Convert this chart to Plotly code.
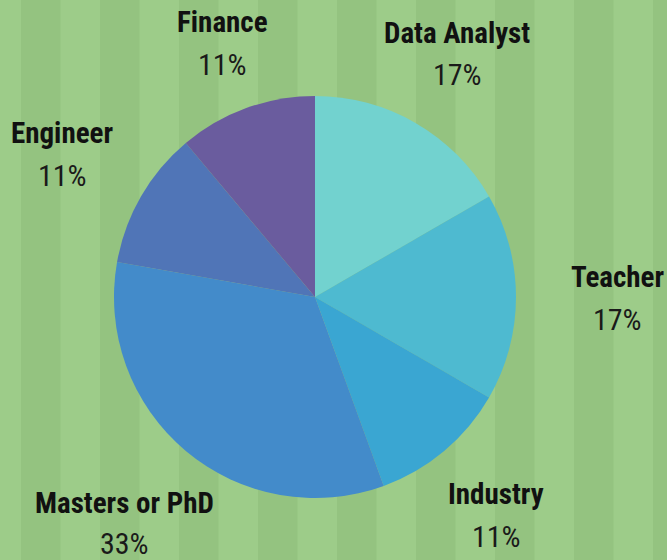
import plotly.graph_objects as go

# Data
categories = ["Data Analyst", "Teacher", "Industry", "Masters or PhD", "Engineer", "Finance"]
counts = [3, 3, 2, 6, 2, 2]
pct_labels = ["17%", "17%", "11%", "33%", "11%", "11%"]
colors = ["#72d2cf", "#4ebad0", "#3aa6d2", "#438bca", "#5075b7", "#6a5c9e"]

W, H = 667, 560
FONT = "Roboto Condensed, Liberation Sans Narrow, DejaVu Sans Condensed, Roboto, sans-serif"

fig = go.Figure()
cx, cy, r = 315, 297, 201
fig.add_trace(go.Pie(
    labels=categories,
    values=counts,
    sort=False,
    direction="clockwise",
    rotation=0,
    marker=dict(colors=colors, line=dict(width=0)),
    textinfo="none",
    hoverinfo="skip",
    showlegend=False,
    domain=dict(x=[(cx - r) / W, (cx + r) / W], y=[(H - cy - r) / H, (H - cy + r) / H]),
))

# Background stripes
shapes = []
x0 = 21.0
step = 39.5
k = 0
while x0 + step * k < W:
    if k % 2 == 0:
        a = x0 + step * k
        b = min(a + step, W)
        shapes.append(dict(type="rect", xref="paper", yref="paper", x0=a / W, x1=b / W, y0=0, y1=1,
                           fillcolor="#94c380", line=dict(width=0), layer="below"))
    k += 1

# Label positions (pixel centers): (x, label y, percent y)
label_pos = {
    "Data Analyst": (457, 33, 75),
    "Teacher": (617, 277, 319),
    "Industry": (496, 494, 536),
    "Masters or PhD": (124, 503, 543),
    "Engineer": (62, 133, 175),
    "Finance": (222, 22, 64),
}
annotations = []
for name, pct in zip(categories, pct_labels):
    px, py, ppy = label_pos[name]
    annotations.append(dict(x=px / W, y=1 - py / H, xref="paper", yref="paper", text="<b>" + name + "</b>",
                            showarrow=False, xanchor="center", yanchor="middle",
                            font=dict(family=FONT, size=29, color="#111111")))
    annotations.append(dict(x=px / W, y=1 - ppy / H, xref="paper", yref="paper", text=pct,
                            showarrow=False, xanchor="center", yanchor="middle",
                            font=dict(family=FONT, size=30, color="#1a1a1a")))

fig.update_layout(
    width=W, height=H,
    margin=dict(l=0, r=0, t=0, b=0),
    paper_bgcolor="#9dcc89",
    plot_bgcolor="#9dcc89",
    shapes=shapes,
    annotations=annotations,
)

fig.write_html("out.html", config={"displayModeBar": False},
               post_script="document.body.style.margin='0px';document.body.style.overflow='hidden';")
